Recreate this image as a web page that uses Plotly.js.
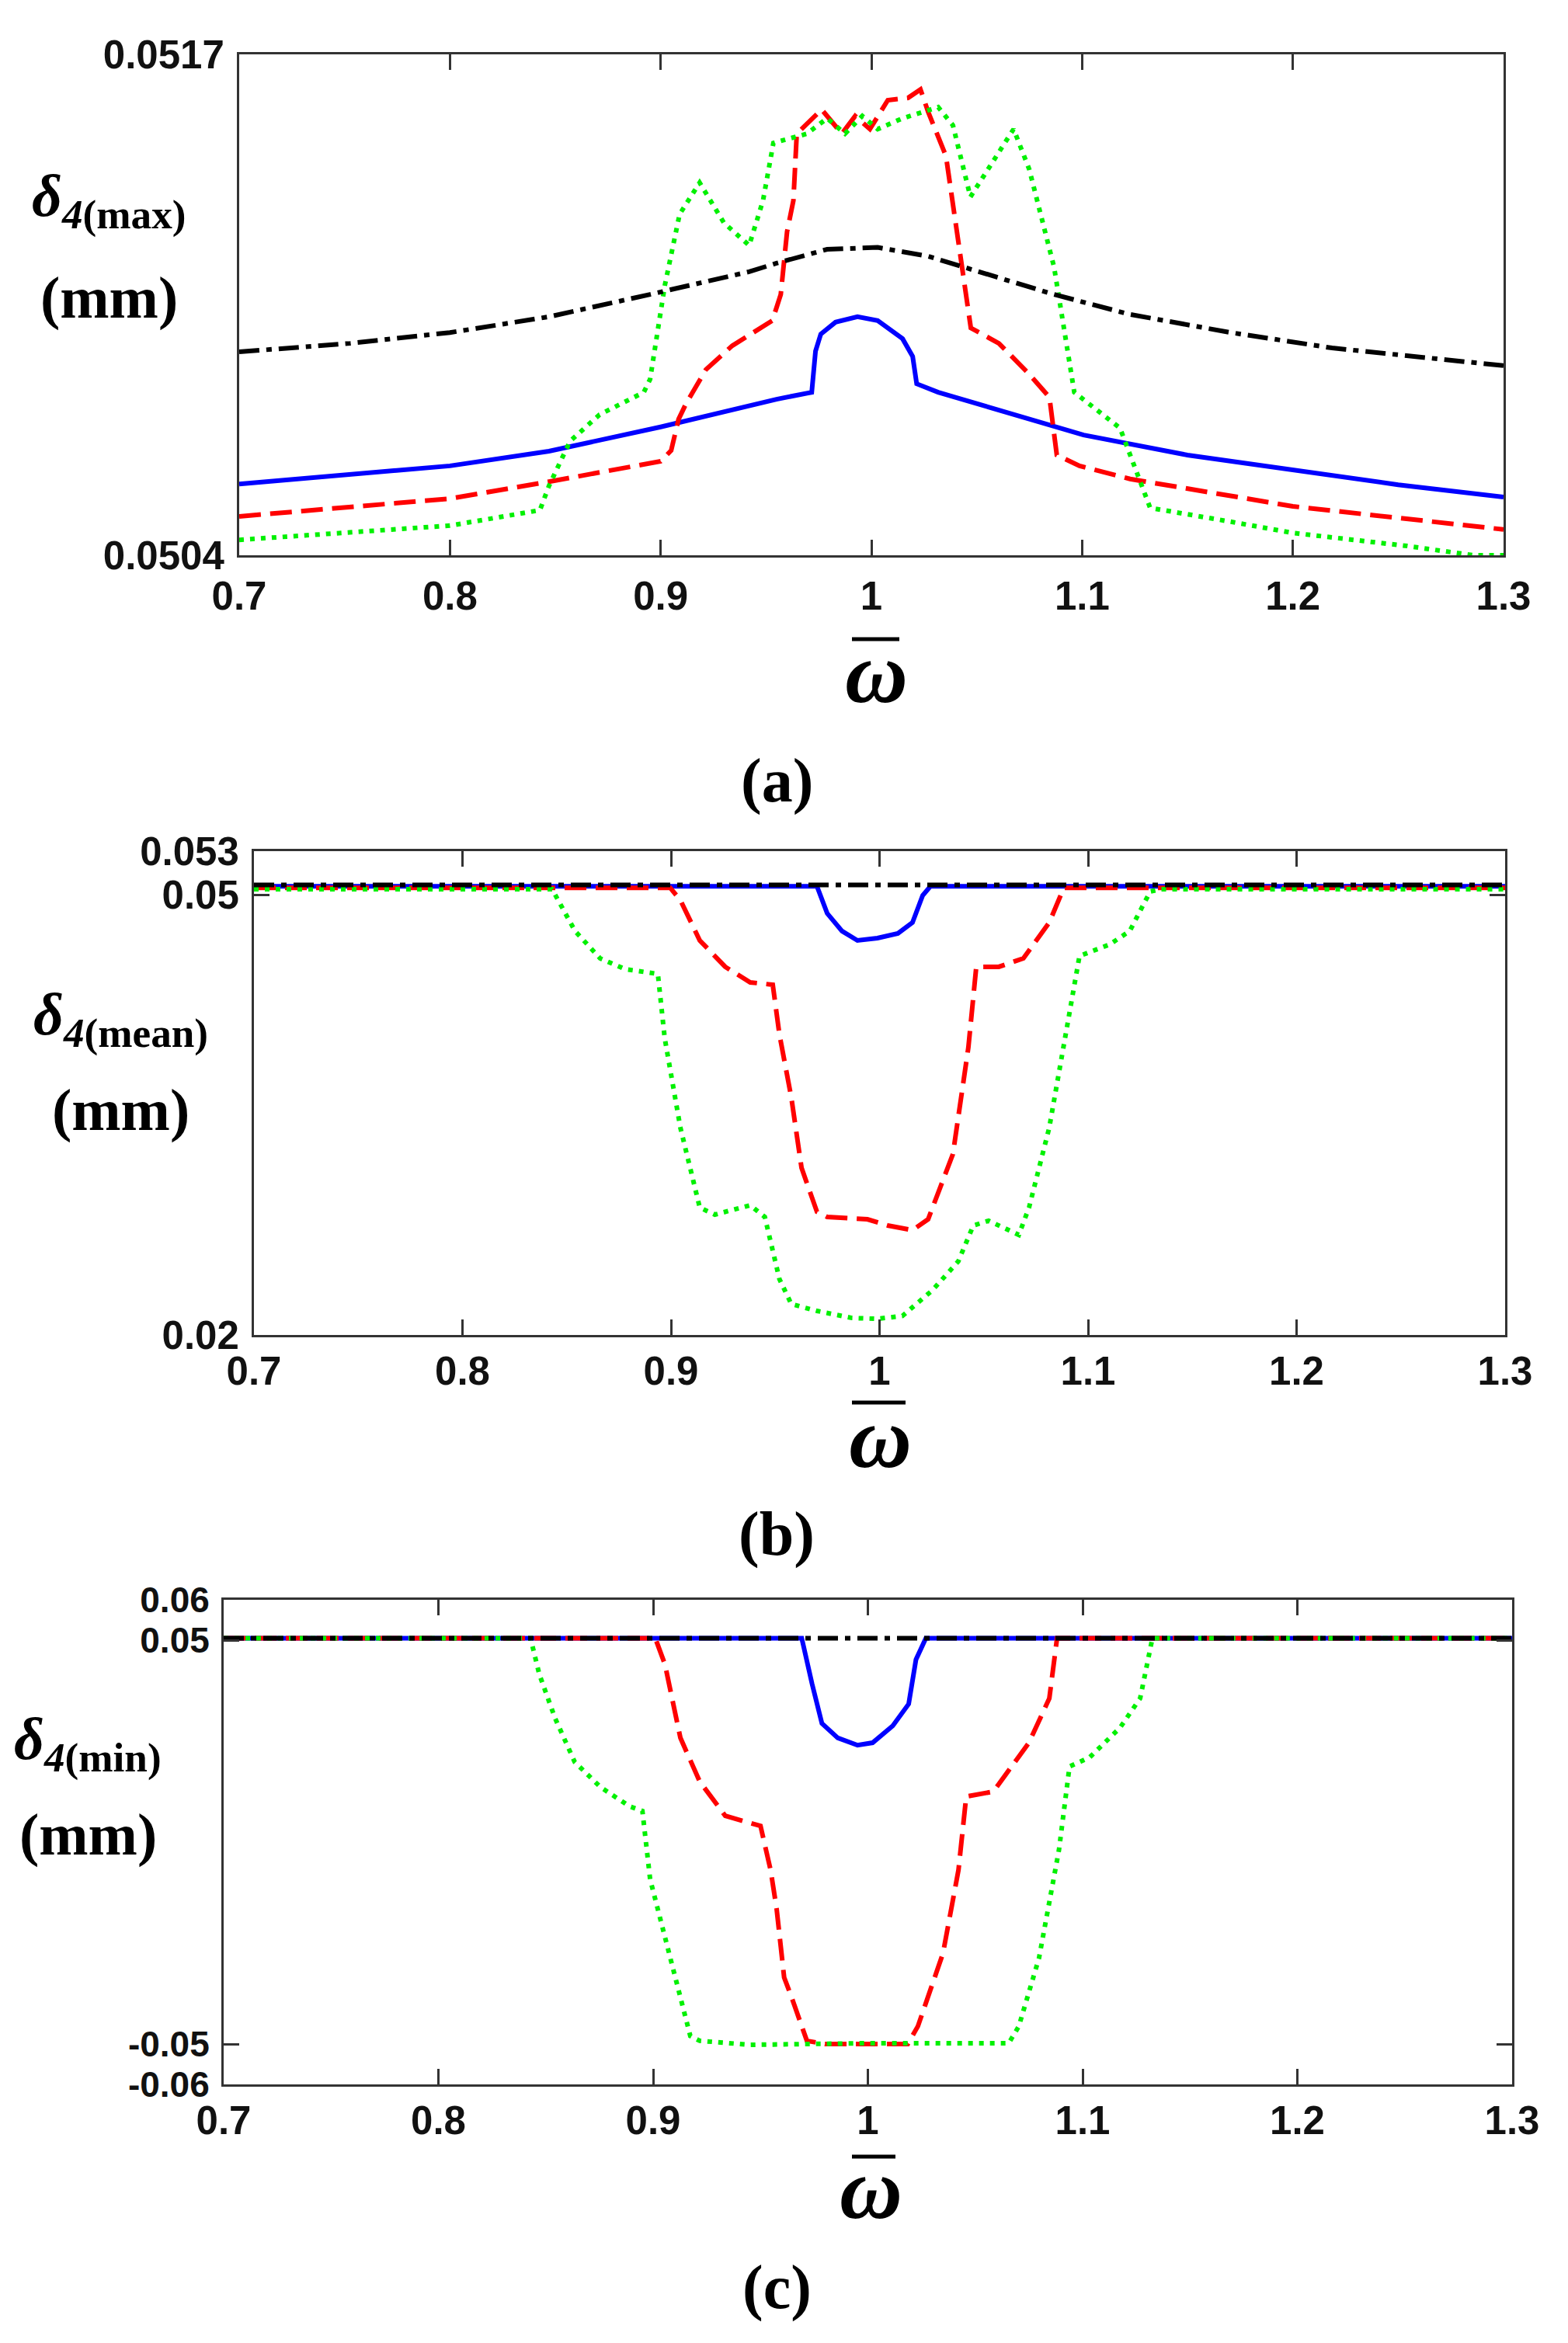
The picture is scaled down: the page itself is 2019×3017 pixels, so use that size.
<!DOCTYPE html>
<html>
<head>
<meta charset="utf-8">
<script src="https://cdn.plot.ly/plotly-3.0.1.min.js"></script>
<style>
  body { margin: 0; background: #fff; }
  #plot { width: 2019px; height: 3017px; }
</style>
</head>
<body>
<div id="plot"></div>
<script>
// ---- panel (a): delta4(max) ----
var aBlueX = [0.7, 0.8, 0.847, 0.9, 0.955, 0.9717, 0.9735, 0.976, 0.983, 0.9934, 1.003, 1.0148, 1.0196, 1.0215, 1.0317, 1.1007, 1.15, 1.2, 1.25, 1.3];
var aBlueY = [0.050585, 0.050632, 0.05067, 0.050733, 0.050805, 0.050823, 0.05093, 0.050974, 0.051005, 0.051019, 0.051009, 0.050962, 0.050916, 0.050845, 0.050823, 0.050712, 0.05066, 0.05062, 0.050583, 0.050551];

var aRedX = [0.7, 0.75, 0.8, 0.847, 0.9, 0.905, 0.9085, 0.912, 0.9215, 0.934, 0.953, 0.957, 0.96, 0.963, 0.9646, 0.9764, 0.986, 0.9923, 0.9993, 1.0078, 1.0174, 1.0233, 1.027, 1.0354, 1.0413, 1.0472, 1.0605, 1.0749, 1.0845, 1.088, 1.0988, 1.1228, 1.2, 1.3];
var aRedY = [0.050501, 0.050523, 0.050547, 0.050591, 0.050644, 0.050672, 0.050753, 0.050793, 0.050882, 0.050944, 0.051009, 0.051077, 0.05124, 0.051321, 0.051494, 0.051557, 0.051494, 0.05154, 0.051506, 0.051581, 0.051587, 0.051609, 0.05155, 0.051436, 0.051216, 0.05099, 0.05095, 0.05087, 0.05081, 0.05066, 0.050632, 0.050598, 0.050527, 0.050467];

var aGreenX = [0.7, 0.75, 0.8, 0.8427, 0.847, 0.857, 0.871, 0.892, 0.895, 0.902, 0.909, 0.9185, 0.93, 0.942, 0.9486, 0.9535, 0.958, 0.9694, 0.979, 0.9875, 0.9957, 1.003, 1.0148, 1.0317, 1.0387, 1.047, 1.0675, 1.0749, 1.0867, 1.0963, 1.118, 1.1276, 1.1323, 1.1706, 1.2, 1.2544, 1.2857, 1.3];
var aGreenY = [0.05044, 0.050458, 0.050477, 0.050517, 0.05058, 0.050696, 0.050765, 0.050823, 0.050857, 0.051101, 0.051285, 0.051367, 0.051263, 0.051204, 0.051321, 0.05147, 0.051476, 0.051494, 0.051534, 0.051494, 0.05154, 0.051506, 0.051534, 0.051563, 0.051516, 0.05133, 0.051506, 0.051402, 0.051148, 0.050823, 0.05073, 0.050591, 0.050523, 0.050487, 0.050458, 0.050424, 0.0504, 0.0504];

var aBlackX = [0.7, 0.7527, 0.8, 0.847, 0.895, 0.942, 0.955, 0.979, 1.003, 1.027, 1.051, 1.0867, 1.1228, 1.1706, 1.2186, 1.2666, 1.3];
var aBlackY = [0.050928, 0.05095, 0.050978, 0.051019, 0.051077, 0.051136, 0.051158, 0.051194, 0.051199, 0.051176, 0.051136, 0.051077, 0.051025, 0.050978, 0.050938, 0.05091, 0.050892];

// ---- panel (b): delta4(mean) ----
var bBlueX = [0.7, 0.97, 0.9749, 0.982, 0.9894, 0.999, 1.0088, 1.0158, 1.0207, 1.0244, 1.3];
var bBlueY = [0.0506, 0.0506, 0.04876, 0.04755, 0.04691, 0.04707, 0.04739, 0.04813, 0.04998, 0.0506, 0.0506];

var bRedX = [0.7, 0.8996, 0.9045, 0.9138, 0.926, 0.938, 0.9488, 0.952, 0.9577, 0.9626, 0.97, 0.9749, 0.9942, 1.0039, 1.0158, 1.0233, 1.0352, 1.0426, 1.0464, 1.0572, 1.069, 1.0814, 1.0884, 1.3];
var bRedY = [0.0505, 0.0505, 0.04966, 0.04691, 0.04511, 0.04405, 0.04389, 0.0405, 0.0362, 0.0314, 0.0284, 0.02805, 0.02789, 0.02747, 0.02715, 0.02789, 0.03234, 0.0396, 0.04511, 0.04511, 0.04569, 0.04813, 0.0505, 0.0505];

var bGreenX = [0.7, 0.843, 0.854, 0.866, 0.878, 0.8937, 0.897, 0.9045, 0.9138, 0.921, 0.938, 0.945, 0.952, 0.9577, 0.97, 0.9868, 0.999, 1.011, 1.0255, 1.0378, 1.045, 1.0523, 1.0668, 1.0717, 1.0814, 1.091, 1.0959, 1.1104, 1.12, 1.1298, 1.1346, 1.3];
var bGreenY = [0.0504, 0.0504, 0.04755, 0.04569, 0.04495, 0.04463, 0.04023, 0.03414, 0.02869, 0.02821, 0.02885, 0.02805, 0.02381, 0.02211, 0.02164, 0.02116, 0.0211, 0.0213, 0.02307, 0.02503, 0.02747, 0.02779, 0.02683, 0.02869, 0.03414, 0.04177, 0.04585, 0.04664, 0.04755, 0.05025, 0.0504, 0.0504];

var bBlackX = [0.7, 1.3];
var bBlackY = [0.0507, 0.0507];

// ---- panel (c): delta4(min) ----
var cBlueX = [0.7, 0.9692, 0.974, 0.9786, 0.986, 0.9952, 1.0022, 1.0116, 1.019, 1.0224, 1.027, 1.3];
var cBlueY = [0.0505, 0.0505, 0.0392, 0.0294, 0.0258, 0.024, 0.0246, 0.0288, 0.0342, 0.0452, 0.0505, 0.0505];

var cRedX = [0.7, 0.901, 0.9055, 0.9127, 0.9217, 0.9336, 0.95, 0.9547, 0.9575, 0.961, 0.9644, 0.9716, 0.98, 1.0186, 1.0233, 1.035, 1.0422, 1.0458, 1.0584, 1.075, 1.0845, 1.0881, 1.3];
var cRedY = [0.0505, 0.0505, 0.044, 0.0258, 0.015, 0.0065, 0.004, -0.0069, -0.0165, -0.0335, -0.0383, -0.0492, -0.05, -0.05, -0.0456, -0.0275, -0.0069, 0.0113, 0.0125, 0.0246, 0.0356, 0.0505, 0.0505];

var cGreenX = [0.7, 0.8429, 0.847, 0.8544, 0.8635, 0.8754, 0.889, 0.895, 0.8986, 0.9055, 0.9127, 0.9173, 0.9217, 0.945, 1.0, 1.0656, 1.0703, 1.0797, 1.089, 1.0939, 1.1033, 1.1174, 1.1268, 1.1325, 1.3];
var cGreenY = [0.0505, 0.0505, 0.04154, 0.03058, 0.01981, 0.01365, 0.00885, 0.0077, -0.0092, -0.0238, -0.0394, -0.048, -0.0492, -0.0502, -0.0498, -0.0498, -0.0456, -0.0287, -0.0019, 0.0187, 0.021, 0.0283, 0.0356, 0.0505, 0.0505];

var cBlackX = [0.7, 1.3];
var cBlackY = [0.0505, 0.0505];

// ---- ticks ----
var xTicks = [0.7, 0.8, 0.9, 1.0, 1.1, 1.2, 1.3];
var xTickText = ['0.7', '0.8', '0.9', '1', '1.1', '1.2', '1.3'];
var aYTicks = [0.0504, 0.0517];
var aYTickText = ['0.0504', '0.0517'];
var bYTicks = [0.02, 0.05, 0.053];
var bYTickText = ['0.02', '0.05', '0.053'];
var cYTicks = [-0.06, -0.05, 0.05, 0.06];
var cYTickText = ['-0.06', '-0.05', '0.05', '0.06'];

var W = 2019, H = 3017;
function px(x) { return x / W; }
function py(y) { return 1 - y / H; }

var styles = {
  blue:  {color: '#0000ff', width: 6, dash: 'solid'},
  red:   {color: '#ff0000', width: 6, dash: '28px,12px'},
  green: {color: '#00f000', width: 6, dash: '6px,8px'},
  black: {color: '#000000', width: 6, dash: '26px,9px,7px,9px'}
};

function tr(x, y, st, n) {
  return {type: 'scatter', mode: 'lines', x: x, y: y, xaxis: 'x' + n, yaxis: 'y' + n,
          line: styles[st], showlegend: false, hoverinfo: 'skip'};
}

var dataPlot = [
  tr(aBlueX, aBlueY, 'blue', ''), tr(aRedX, aRedY, 'red', ''), tr(aGreenX, aGreenY, 'green', ''), tr(aBlackX, aBlackY, 'black', ''),
  tr(bBlueX, bBlueY, 'blue', 2), tr(bRedX, bRedY, 'red', 2), tr(bGreenX, bGreenY, 'green', 2), tr(bBlackX, bBlackY, 'black', 2),
  tr(cBlueX, cBlueY, 'blue', 3), tr(cRedX, cRedY, 'red', 3), tr(cGreenX, cGreenY, 'green', 3), tr(cBlackX, cBlackY, 'black', 3)
];

function tickFont(size) {
  return {family: 'Liberation Sans, Arial, sans-serif', size: size, color: '#111', weight: 'bold'};
}

function axis(extra) {
  var a = {
    showline: true, mirror: 'ticks', linecolor: '#333', linewidth: 3,
    ticks: 'inside', ticklen: 20, tickwidth: 3, tickcolor: '#333',
    showgrid: false, zeroline: false, tickfont: tickFont(51), tickmode: 'array',
    ticklabelstandoff: 6
  };
  for (var k in extra) a[k] = extra[k];
  return a;
}

var serif = 'Liberation Serif, Times New Roman, serif';
function lab(text, x, y, size, h) {
  var a = {text: text, xref: 'paper', yref: 'paper', x: px(x), y: py(y),
          xanchor: 'center', yanchor: 'middle', showarrow: false,
          font: {family: serif, size: size, color: '#000'}};
  if (h) { a.height = h; a.valign = 'middle'; }
  return a;
}
function bar(x0, x1, y) {
  return {type: 'line', xref: 'paper', yref: 'paper', x0: px(x0), x1: px(x1), y0: py(y), y1: py(y),
          line: {color: '#000', width: 5}};
}

var layout = {
  width: W, height: H,
  margin: {l: 0, r: 0, t: 0, b: 0},
  paper_bgcolor: '#fff', plot_bgcolor: '#fff',
  xaxis:  axis({domain: [px(308), px(1936)], anchor: 'y',  range: [0.7, 1.3], tickvals: xTicks, ticktext: xTickText}),
  yaxis:  axis({domain: [py(715), py(70)],   anchor: 'x',  range: [0.0504, 0.0517], tickvals: aYTicks, ticktext: aYTickText}),
  xaxis2: axis({domain: [px(327), px(1938)], anchor: 'y2', range: [0.7, 1.3], tickvals: xTicks, ticktext: xTickText, ticklabelstandoff: 0}),
  yaxis2: axis({domain: [py(1719), py(1096)], anchor: 'x2', range: [0.02, 0.053], tickvals: bYTicks, ticktext: bYTickText}),
  xaxis3: axis({domain: [px(288), px(1947)], anchor: 'y3', range: [0.7, 1.3], tickvals: xTicks, ticktext: xTickText, ticklabelstandoff: 0}),
  yaxis3: axis({domain: [py(2684), py(2060)], anchor: 'x3', range: [-0.06, 0.06], tickvals: cYTicks, ticktext: cYTickText, tickfont: tickFont(46)}),
  annotations: [
    lab('<b><i>δ</i><sub><i>4</i>(max)</sub></b>', 140, 258, 76),
    lab('<b>(mm)</b>', 140, 383, 76),
    lab('<b><i>δ</i><sub><i>4</i>(mean)</sub></b>', 155, 1312, 76),
    lab('<b>(mm)</b>', 155, 1430, 76),
    lab('<b><i>δ</i><sub><i>4</i>(min)</sub></b>', 113, 2245, 76),
    lab('<b>(mm)</b>', 113, 2362, 76),
    lab('<b><i>ω</i></b>', 1128, 866, 112, 86),
    lab('<b><i>ω</i></b>', 1133, 1851, 112, 86),
    lab('<b><i>ω</i></b>', 1121, 2818, 112, 86),
    lab('<b>(a)</b>', 1000, 1005, 80),
    lab('<b>(b)</b>', 1000, 1975, 80),
    lab('<b>(c)</b>', 1000, 2945, 80)
  ],
  shapes: [
    bar(1097, 1158, 823),
    bar(1097, 1166, 1806),
    bar(1097, 1153, 2777)
  ]
};

Plotly.newPlot('plot', dataPlot, layout, {displayModeBar: false, staticPlot: true});
</script>
</body>
</html>
